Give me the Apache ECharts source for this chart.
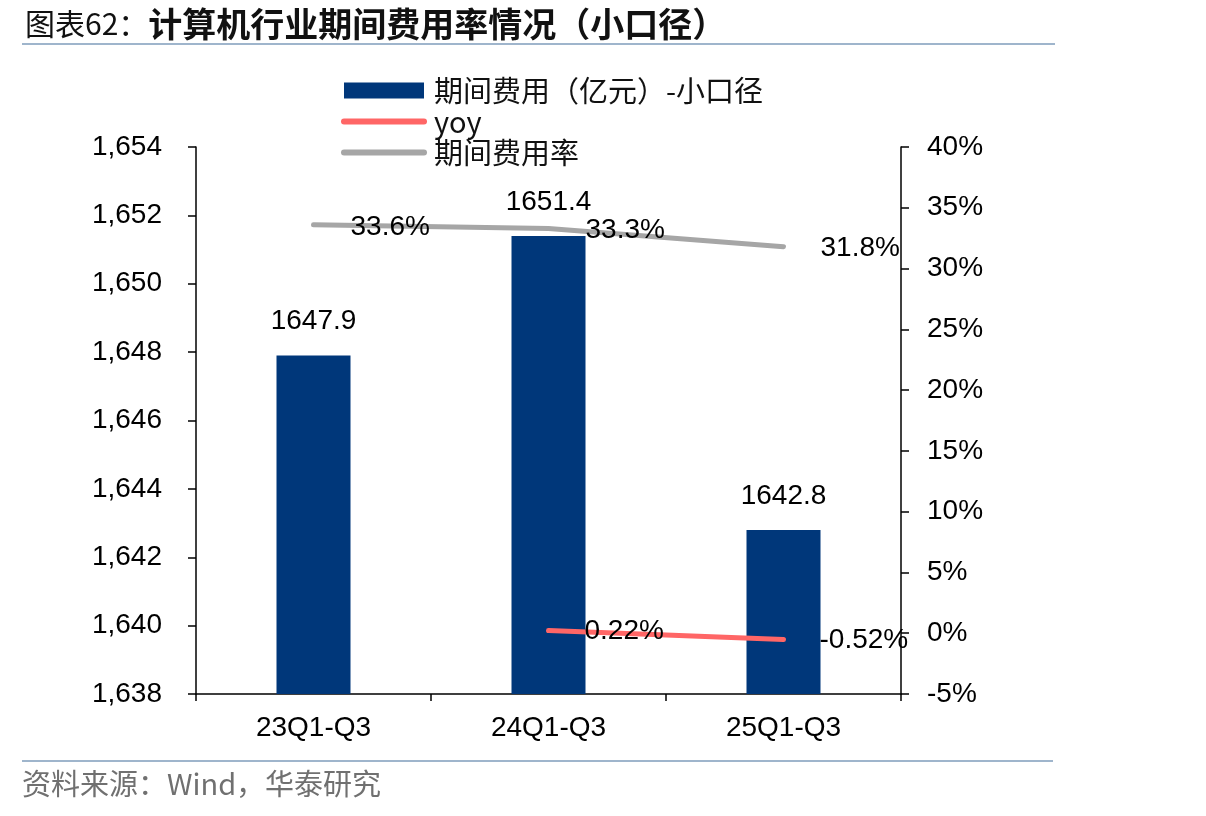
<!DOCTYPE html>
<html>
<head>
<meta charset="utf-8">
<script src="https://cdn.jsdelivr.net/npm/echarts@6/dist/echarts.min.js"></script>
<style>
html,body{margin:0;padding:0;background:#fff;}
#main{width:1206px;height:816px;}
</style>
</head>
<body>
<div id="main"></div>
<script>
var categories = ['23Q1-Q3', '24Q1-Q3', '25Q1-Q3'];
var expense = [1647.9, 1651.4, 1642.8];
var yoy = [null, 0.22, -0.52];
var expenseRate = [33.6, 33.3, 31.8];
var seriesNames = ['期间费用（亿元）-小口径', 'yoy', '期间费用率'];
var titlePrefix = '图表62：';
var titleMain = '计算机行业期间费用率情况（小口径）';
var sourceText = '资料来源：Wind，华泰研究';

var latin = '"Liberation Sans", Arial, sans-serif';
var cjk = '"Noto Sans CJK SC", sans-serif';
var chart = echarts.init(document.getElementById('main'), null, {renderer: 'canvas'});

chart.setOption({
  backgroundColor: '#ffffff',
  animation: false,
  title: {
    text: '{a|' + titlePrefix + '}{b|' + titleMain + '}',
    left: 20, top: 2,
    textStyle: {
      rich: {
        a: {fontFamily: cjk, fontSize: 30, fontWeight: 'normal', color: '#111'},
        b: {fontFamily: cjk, fontSize: 34, fontWeight: 'bold', color: '#111'}
      }
    }
  },
  graphic: [
    {type: 'line', shape: {x1: 22, y1: 44, x2: 1055, y2: 44}, style: {stroke: '#9fb5cc', lineWidth: 2}},
    {type: 'line', shape: {x1: 22, y1: 761, x2: 1053, y2: 761}, style: {stroke: '#9fb5cc', lineWidth: 2}},
    {type: 'text', left: 22, top: 769, style: {text: sourceText, font: '29px "Noto Sans CJK SC", sans-serif', fill: '#707070'}}
  ],
  legend: {
    orient: 'vertical',
    left: 341, top: 76,
    padding: 0,
    itemWidth: 80, itemHeight: 16,
    itemGap: 2,
    textStyle: {fontFamily: cjk, fontSize: 29, lineHeight: 28, color: '#111', padding: [0, 0, 0, 5]},
    data: [
      {name: seriesNames[0], icon: 'rect'},
      {name: seriesNames[1], itemStyle: {opacity: 0}, lineStyle: {width: 6, cap: 'round', color: '#ff6666'}},
      {name: seriesNames[2], itemStyle: {opacity: 0}, lineStyle: {width: 6, cap: 'round', color: '#a6a6a6'}}
    ]
  },
  grid: {left: 196, right: 305, top: 147, bottom: 122},
  xAxis: {
    type: 'category',
    data: categories,
    boundaryGap: true,
    axisLine: {onZero: false, lineStyle: {color: '#000', width: 1.5}},
    axisTick: {show: true, length: 7, alignWithLabel: false, lineStyle: {color: '#000', width: 1.5}},
    axisLabel: {fontFamily: latin, fontSize: 28, color: '#000', margin: 20}
  },
  yAxis: [
    {
      type: 'value', min: 1638, max: 1654, interval: 2,
      axisLine: {show: true, onZero: false, lineStyle: {color: '#000', width: 1.5}},
      axisTick: {show: true, length: 8, lineStyle: {color: '#000', width: 1.5}},
      splitLine: {show: false},
      axisLabel: {fontFamily: latin, fontSize: 28, color: '#000', margin: 34,
        formatter: function (v) { return v.toLocaleString('en-US'); }}
    },
    {
      type: 'value', min: -5, max: 40, interval: 5, position: 'right',
      axisLine: {show: true, onZero: false, lineStyle: {color: '#000', width: 1.5}},
      axisTick: {show: true, length: 8, lineStyle: {color: '#000', width: 1.5}},
      splitLine: {show: false},
      axisLabel: {fontFamily: latin, fontSize: 28, color: '#000', margin: 26, formatter: '{value}%'}
    }
  ],
  series: [
    {
      name: seriesNames[0], type: 'bar', yAxisIndex: 0,
      data: expense, barWidth: 74,
      itemStyle: {color: '#00377a'},
      label: {show: true, position: 'top', distance: 20, fontFamily: latin, fontSize: 28, color: '#000',
        formatter: function (p) { return p.value.toFixed(1); }}
    },
    {
      name: seriesNames[1], type: 'line', yAxisIndex: 1,
      data: yoy, symbol: 'circle', symbolSize: 0.01, showSymbol: true, connectNulls: false,
      lineStyle: {color: '#ff6666', width: 5, cap: 'round'},
      itemStyle: {color: '#ff6666'},
      label: {show: true, position: 'right', distance: 5, offset: [31, 1], fontFamily: latin, fontSize: 28, color: '#000',
        formatter: function (p) { return p.value == null ? '' : p.value.toFixed(2) + '%'; }},
      z: 5
    },
    {
      name: seriesNames[2], type: 'line', yAxisIndex: 1,
      data: expenseRate, symbol: 'circle', symbolSize: 0.01, showSymbol: true,
      lineStyle: {color: '#a6a6a6', width: 5, cap: 'round'},
      itemStyle: {color: '#a6a6a6'},
      label: {show: true, position: 'right', distance: 5, offset: [32, 2], fontFamily: latin, fontSize: 28, color: '#000',
        formatter: function (p) { return p.value.toFixed(1) + '%'; }},
      z: 4
    }
  ]
});
</script>
</body>
</html>
